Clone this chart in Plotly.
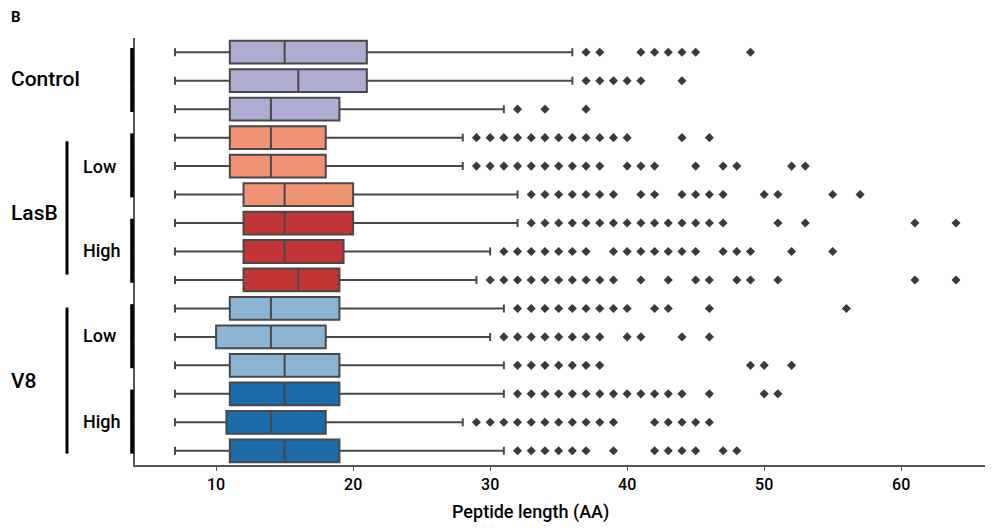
import plotly.graph_objects as go

# ---- data ----
row_labels = ["Control 1", "Control 2", "Control 3",
              "LasB Low 1", "LasB Low 2", "LasB Low 3",
              "LasB High 1", "LasB High 2", "LasB High 3",
              "V8 Low 1", "V8 Low 2", "V8 Low 3",
              "V8 High 1", "V8 High 2", "V8 High 3"]
whisker_low = [7, 7, 7, 7, 7, 7, 7, 7, 7, 7, 7, 7, 7, 7, 7]
q1 = [11, 11, 11, 11, 11, 12, 12, 12, 12, 11, 10, 11, 11, 10.75, 11]
median = [15, 16, 14, 14, 14, 15, 15, 15, 16, 14, 14, 15, 15, 14, 15]
q3 = [21, 21, 19, 18, 18, 20, 20, 19.3, 19, 19, 18, 19, 19, 18, 19]
whisker_high = [36, 36, 31, 28, 28, 32, 32, 30, 29, 31, 30, 31, 31, 28, 31]
outliers = [
    [37, 38, 41, 42, 43, 44, 45, 49],
    [37, 38, 39, 40, 41, 44],
    [32, 34, 37],
    [29, 30, 31, 32, 33, 34, 35, 36, 37, 38, 39, 40, 44, 46],
    [29, 30, 31, 32, 33, 34, 35, 36, 37, 38, 40, 41, 42, 45, 47, 48, 52, 53],
    [33, 34, 35, 36, 37, 38, 39, 41, 42, 44, 45, 46, 47, 50, 51, 55, 57],
    [33, 34, 35, 36, 37, 38, 39, 40, 41, 42, 43, 44, 45, 46, 47, 51, 53, 61, 64],
    [31, 32, 33, 34, 35, 36, 37, 39, 40, 41, 42, 43, 44, 45, 47, 48, 49, 52, 55],
    [30, 31, 32, 33, 34, 35, 36, 37, 38, 39, 41, 43, 45, 46, 48, 49, 51, 61, 64],
    [32, 33, 34, 35, 36, 37, 38, 39, 40, 42, 43, 46, 56],
    [31, 32, 33, 34, 35, 36, 37, 38, 40, 41, 44, 46],
    [32, 33, 34, 35, 36, 37, 38, 49, 50, 52],
    [32, 33, 34, 35, 36, 37, 38, 39, 40, 41, 42, 43, 44, 46, 50, 51],
    [29, 30, 31, 32, 33, 34, 35, 36, 37, 38, 39, 42, 43, 44, 45, 46],
    [32, 33, 34, 35, 36, 37, 39, 42, 43, 44, 45, 47, 48],
]
row_colors = ["#aeacd0"] * 3 + ["#f09274"] * 3 + ["#c13537"] * 3 + ["#8cb5d5"] * 3 + ["#1b6ca8"] * 3
x_ticks = [10, 20, 30, 40, 50, 60]
x_title = "Peptide length (AA)"

FONT = "Roboto"
EDGE = "#484848"

fig = go.Figure()
for i in range(len(row_labels)):
    fig.add_trace(go.Box(
        y=[i], q1=[q1[i]], median=[median[i]], q3=[q3[i]],
        lowerfence=[whisker_low[i]], upperfence=[whisker_high[i]],
        orientation="h", width=0.8, whiskerwidth=0.35,
        fillcolor=row_colors[i], line=dict(color=EDGE, width=2),
        boxpoints=False, showlegend=False, hoverinfo="skip",
    ))
    fig.add_trace(go.Scatter(
        x=outliers[i], y=[i] * len(outliers[i]), mode="markers",
        marker=dict(symbol="diamond", size=7, color="#3a3a3a", line=dict(width=0)),
        showlegend=False, hoverinfo="skip",
    ))

# page body has an 8px margin; figure placed at (8, 8)
OFF = 8
PLOT_L, PLOT_T, PLOT_B = 135, 38, 465     # absolute page pixels
W, H = 993 - OFF, 532 - 2 * OFF
L, T = PLOT_L - OFF, PLOT_T - OFF
B = H - (PLOT_B - OFF)
R = 0
pw = W - L - R
ph = H - T - B

def px(xabs):
    return (xabs - PLOT_L) / pw

def py(yabs):
    return (PLOT_B - yabs) / ph

shapes = []
for y0, y1 in [(-0.15, 2.1), (2.85, 5.1), (5.85, 8.1), (8.85, 11.1), (11.85, 14.1)]:
    shapes.append(dict(type="line", xref="paper", yref="y", x0=px(132), x1=px(132),
                       y0=y0, y1=y1, line=dict(color="black", width=3.5)))
for y0, y1 in [(3.13, 7.81), (8.97, 14.1)]:
    shapes.append(dict(type="line", xref="paper", yref="y", x0=px(67), x1=px(67),
                       y0=y0, y1=y1, line=dict(color="black", width=3)))

annotations = []
def lab(text, xabs, yval, size=20):
    annotations.append(dict(text=text, xref="paper", yref="y", x=px(xabs), y=yval,
                            xanchor="left", yanchor="middle", showarrow=False,
                            font=dict(family=FONT, size=size, color="black", weight=500)))

lab("Control", 9, 0.95, 21)
lab("LasB", 9, 5.63, 21)
lab("V8", 9, 11.55, 21)
lab("Low", 81, 4.0, 18)
lab("High", 81, 6.95, 18)
lab("Low", 81, 9.95, 18)
lab("High", 81, 12.98, 18)
annotations.append(dict(text="B", xref="paper", yref="paper", x=px(9), y=py(17),
                        xanchor="left", yanchor="middle", showarrow=False,
                        font=dict(family=FONT, size=15, color="black", weight="bold")))
annotations.append(dict(text=x_title, xref="paper", yref="paper", x=px(530), y=py(512),
                        xanchor="center", yanchor="middle", showarrow=False,
                        font=dict(family=FONT, size=18, color="black", weight=500)))

fig.update_layout(
    width=W, height=H,
    margin=dict(l=L, r=R, t=T, b=B, pad=0),
    paper_bgcolor="white", plot_bgcolor="white",
    font=dict(family=FONT, color="black"),
    shapes=shapes, annotations=annotations,
    xaxis=dict(range=[4.08, 66.7], tickvals=x_ticks, ticktext=[str(t) for t in x_ticks],
               showgrid=False, zeroline=False, showline=True, linecolor="#555555",
               linewidth=1.5, ticks="outside", ticklen=4, tickcolor="#555555",
               tickfont=dict(family=FONT, size=16, color="black", weight=500)),
    yaxis=dict(range=[14.5, -0.5], tickvals=list(range(15)), showticklabels=False,
               showgrid=False, zeroline=False, showline=True, linecolor="#555555",
               linewidth=1.5, ticks="outside", ticklen=3, tickcolor="#555555"),
)

fig.write_html("out.html")
